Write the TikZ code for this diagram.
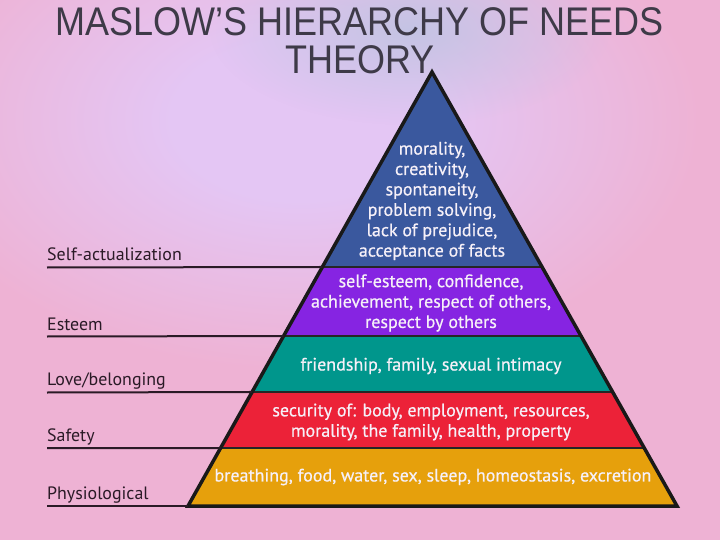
\documentclass[tikz,border=0pt]{standalone}
\usepackage{fontspec}
\setmainfont{PT Sans}
\newfontfamily\bandfont[FakeBold=0.6]{PT Sans}
\newfontfamily\titlefont[FakeStretch=0.9]{Liberation Sans}
\usetikzlibrary{calc,fadings}
\definecolor{bgpink}{RGB}{238,178,212}
\definecolor{bglav}{RGB}{228,198,244}
\definecolor{bgblue}{RGB}{196,196,228}
\definecolor{titlegray}{RGB}{62,58,72}
\definecolor{labeldark}{RGB}{42,26,38}
\definecolor{cblue}{RGB}{58,88,158}
\definecolor{cpurple}{RGB}{134,36,226}
\definecolor{cteal}{RGB}{0,150,140}
\definecolor{cred}{RGB}{236,34,56}
\definecolor{cyellow}{RGB}{230,160,12}
\definecolor{bandtext}{RGB}{246,240,248}
\pgfdeclareradialshading{lavblob}{\pgfpoint{0bp}{0bp}}{color(0bp)=(bglav); color(8bp)=(bglav); color(25bp)=(bgpink); color(50bp)=(bgpink)}
\tikzfading[name=softblob, inner color=transparent!0, outer color=transparent!100]
\begin{document}
\begin{tikzpicture}[x=1pt,y=-1pt,
  bandtxt/.style={text=bandtext,align=center,font=\bandfont\fontsize{18}{20.4}\selectfont,inner sep=0pt},
  levellabel/.style={text=labeldark,anchor=base west,font=\fontsize{17.9}{20}\selectfont,inner sep=0pt},
  levelline/.style={draw=labeldark,line width=2pt},
  sepline/.style={draw=black!85,line width=2pt},
  outline/.style={draw=black!90,line width=3.5pt,line join=miter}]
\useasboundingbox (0,0) rectangle (720,540);
% background
\fill[bgpink] (0,0) rectangle (720,540);
\begin{scope}
\clip (0,0) rectangle (720,540);
\shade[shading=lavblob] (300,120) ellipse (400 and 250);
\fill[bgblue,path fading=softblob] (410,30) ellipse (200 and 95);
\end{scope}
% title
\node[font=\titlefont\fontsize{40}{38}\selectfont,text=titlegray,align=center,inner sep=0pt] (title) at (360,41) {MASLOW’S HIERARCHY OF NEEDS\\THEORY};
% pyramid geometry
\coordinate (apex) at (432,72);
\coordinate (bl) at (188,506);
\coordinate (br) at (677,506);
\coordinate (l1) at ($(apex)!0.4493!(bl)$);
\coordinate (r1) at ($(apex)!0.4493!(br)$);
\coordinate (l2) at ($(apex)!0.6083!(bl)$);
\coordinate (r2) at ($(apex)!0.6083!(br)$);
\coordinate (l3) at ($(apex)!0.7373!(bl)$);
\coordinate (r3) at ($(apex)!0.7373!(br)$);
\coordinate (l4) at ($(apex)!0.8664!(bl)$);
\coordinate (r4) at ($(apex)!0.8664!(br)$);
% bands
\fill[cblue] (apex) -- (r1) -- (l1) -- cycle;
\fill[cpurple] (l1) -- (r1) -- (r2) -- (l2) -- cycle;
\fill[cteal] (l2) -- (r2) -- (r3) -- (l3) -- cycle;
\fill[cred] (l3) -- (r3) -- (r4) -- (l4) -- cycle;
\fill[cyellow] (l4) -- (r4) -- (br) -- (bl) -- cycle;
\draw[sepline] (l1) -- (r1);
\draw[sepline] (l2) -- (r2);
\draw[sepline] (l3) -- (r3);
\draw[sepline] (l4) -- (r4);
\draw[outline] (apex) -- (br) -- (bl) -- cycle;
% band texts
\node[bandtxt] (t1) at (432,201) {morality,\\creativity,\\spontaneity,\\problem solving,\\lack of prejudice,\\acceptance of facts};
\node[bandtxt] (t2) at (431,303) {self-esteem, confidence,\\achievement, respect of others,\\respect by others};
\node[bandtxt] (t3) at (431,366) {friendship, family, sexual intimacy};
\node[bandtxt] (t4) at (431,422) {security of: body, employment, resources,\\morality, the family, health, property};
\node[bandtxt] (t5) at (433,477) {breathing, food, water, sex, sleep, homeostasis, excretion};
% level labels and lines
\node[levellabel] (n1) at (47,260) {Self-actualization};
\node[levellabel] (n2) at (47,330) {Esteem};
\node[levellabel] (n3) at (47,385) {Love/belonging};
\node[levellabel] (n4) at (47,441) {Safety};
\node[levellabel] (n5) at (47,499) {Physiological};
\coordinate (s1) at (47,267.5);
\coordinate (s2) at (47,336.5);
\coordinate (s3) at (47,392.5);
\coordinate (s4) at (47,448);
\coordinate (s5) at (47,506);
\draw[levelline] (s1) -- (l1);
\draw[levelline] (s2) -- (l2);
\draw[levelline] (s3) -- (l3);
\draw[levelline] (s4) -- (l4);
\draw[levelline] (s5) -- (bl);
\end{tikzpicture}
\end{document}
